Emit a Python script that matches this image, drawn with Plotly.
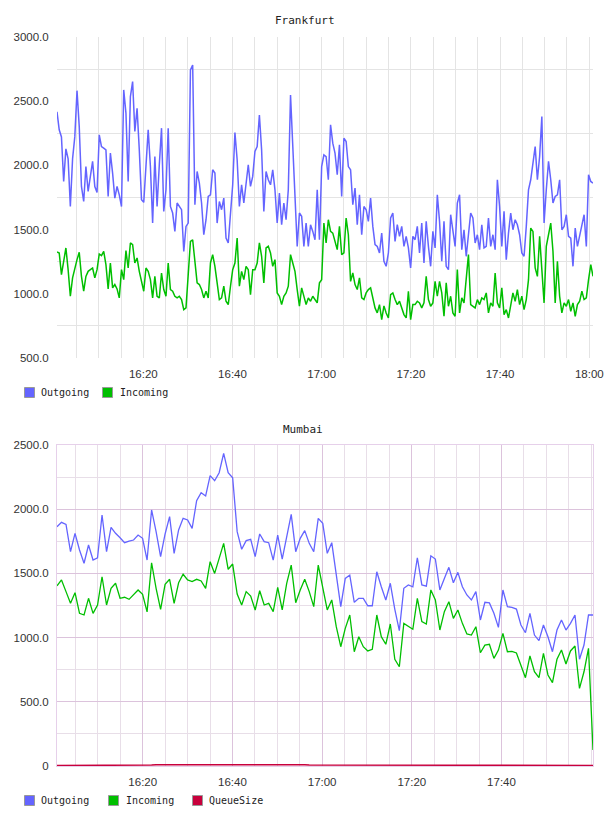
import pandas as pd
import plotly.graph_objects as go

# ---------------- data ----------------
fra_start = "2024-01-01 16:00:39"
fra_end = "2024-01-01 18:00:50"
fra_outgoing = [
    2417, 2277, 2222, 1875, 2129, 2051, 1680, 2051, 2222, 2582,
    2302, 1836, 1719, 1991, 1797, 1927, 2031, 1836, 1789, 2238,
    2147, 2134, 2121, 1758, 2096, 1940, 1745, 1836, 1771, 1680,
    2588, 2407, 1875, 2536, 2653, 2264, 2445, 2121, 1733, 1712,
    1991, 2277, 1991, 1551, 2069, 1680, 2005, 2290, 1642, 1810,
    2290, 1680, 1629, 1486, 1707, 1680, 1655, 1330, 1525, 1551,
    2743, 2782, 1694, 1953, 1862, 1707, 1460, 1577, 1758, 1771,
    1966, 1940, 1551, 1719, 1655, 1745, 1434, 1396, 1603, 1849,
    2256, 2044, 1680, 1849, 1707, 1862, 2005, 1836, 1914, 2108,
    2147, 2393, 2121, 1642, 1953, 1888, 1849, 1966, 1810, 1551,
    1784, 1538, 1707, 1577, 1810, 2549, 2134, 1680, 1369, 1629,
    1603, 1369, 1551, 1369, 1538, 1486, 1421, 1810, 1421, 1991,
    2082, 2069, 1888, 2316, 2173, 2096, 1927, 2160, 1758, 2212,
    2186, 1991, 1966, 1694, 1823, 1538, 1771, 1460, 1680, 1655,
    1564, 1745, 1525, 1383, 1369, 1318, 1473, 1253, 1214, 1318,
    1590, 1629, 1408, 1538, 1447, 1525, 1369, 1447, 1357, 1201,
    1447, 1421, 1525, 1318, 1551, 1240, 1564, 1369, 1214, 1486,
    1357, 1771, 1564, 1253, 1564, 1214, 1188, 1616, 1473, 1369,
    1707, 1771, 1344, 1499, 1292, 1447, 1629, 1590, 1396, 1460,
    1344, 1538, 1357, 1369, 1590, 1369, 1460, 1344, 1888, 1680,
    1369, 1642, 1266, 1473, 1629, 1499, 1577, 1538, 1460, 1318,
    1292, 1525, 1810, 1888, 2005, 2147, 1888, 2069, 2380, 1551,
    1810, 2031, 1888, 1707, 1758, 1771, 1888, 1499, 1525, 1616,
    1447, 1434, 1214, 1512, 1369, 1447, 1525, 1616, 1369, 1927,
    1875, 1862,
]
fra_incoming = [
    1326, 1318, 1149, 1240, 1357, 1188, 981, 1124, 1201, 1266,
    1323, 1136, 1020, 1136, 1175, 1188, 1201, 1124, 1188, 1310,
    1297, 1331, 1227, 1038, 1240, 1046, 1072, 1038, 968, 1188,
    1110, 1336, 1201, 1396, 1383, 1240, 1279, 1175, 1085, 1020,
    1201, 1175, 1110, 968, 1136, 981, 968, 1162, 1033, 981,
    1240, 1033, 1020, 981, 968, 981, 955, 877, 890, 1188,
    1408, 1421, 1240, 1085, 1072, 1033, 968, 1020, 968, 1240,
    1305, 1214, 1085, 955, 968, 1059, 942, 916, 1059, 1188,
    1240, 1434, 1059, 1175, 1110, 1214, 1188, 994, 1188, 1188,
    1240, 1396, 1292, 1085, 1357, 1370, 1318, 1214, 1266, 1007,
    981, 916, 981, 1007, 1059, 1305, 1240, 1175, 1033, 903,
    1046, 981, 916, 968, 942, 981, 955, 929, 1085, 1110,
    1551, 1396, 1577, 1486, 1473, 1408, 1344, 1525, 1305, 1318,
    1590, 1460, 1097, 1162, 1072, 1033, 1124, 968, 955, 1007,
    1033, 1046, 955, 890, 851, 916, 799, 906, 851, 812,
    994, 1007, 955, 916, 942, 890, 838, 812, 1020, 799,
    916, 916, 942, 929, 890, 929, 1136, 955, 903, 929,
    1097, 981, 1097, 1007, 825, 1085, 903, 981, 851, 825,
    1188, 851, 968, 929, 1149, 1305, 916, 903, 890, 955,
    916, 968, 955, 1007, 851, 929, 903, 1162, 929, 890,
    1046, 838, 877, 812, 903, 1007, 942, 1033, 916, 981,
    877, 955, 1110, 1512, 1486, 1201, 1136, 1447, 1188, 929,
    1369, 1473, 1551, 1331, 929, 1253, 981, 851, 929, 903,
    955, 864, 929, 825, 916, 942, 1020, 955, 968, 1110,
    1227, 1136,
]

mum_start = "2024-01-01 16:00:53"
mum_end = "2024-01-01 18:00:24"
mum_outgoing = [
    1864, 1898, 1882, 1669, 1812, 1682, 1579, 1721, 1604, 1622,
    1955, 1669, 1859, 1812, 1778, 1739, 1752, 1760, 1799, 1773,
    1604, 1994, 1825, 1630, 1807, 1942, 1656, 1838, 1929, 1916,
    1851, 2066, 2128, 2103, 2261, 2222, 2284, 2435, 2284, 2245,
    1825, 1688, 1755, 1765, 1630, 1807, 1747, 1739, 1604, 1799,
    1612, 1786, 1960, 1669, 1773, 1833, 1734, 1669, 1929, 1890,
    1656, 1739, 1474, 1241, 1461, 1487, 1275, 1306, 1306, 1248,
    1248, 1513, 1396, 1293, 1423, 1220, 1054, 1384, 1410, 1395,
    1622, 1410, 1401, 1637, 1612, 1371, 1461, 1547, 1427, 1508,
    1396, 1332, 1293, 1358, 1137, 1275, 1270, 1190, 1080, 1371,
    1241, 1235, 1222, 1098, 1038, 1189, 1020, 976, 1098, 1007,
    890, 1059, 1137, 1059, 1111, 1176, 831, 942, 1176, 1176,
]
mum_incoming = [
    1404, 1449, 1358, 1267, 1350, 1189, 1176, 1306, 1189, 1254,
    1474, 1254, 1384, 1423, 1306, 1314, 1298, 1332, 1371, 1337,
    1200, 1583, 1384, 1220, 1415, 1454, 1267, 1427, 1493, 1449,
    1436, 1454, 1441, 1384, 1591, 1500, 1617, 1734, 1532, 1573,
    1339, 1254, 1358, 1324, 1215, 1365, 1254, 1267, 1202, 1392,
    1215, 1423, 1565, 1272, 1371, 1454, 1358, 1241, 1565, 1396,
    1215, 1293, 1085, 929, 1072, 1176, 890, 1007, 929, 896,
    909, 1176, 1007, 948, 1106, 831, 773, 1111, 1085, 1065,
    1306, 1124, 1106, 1371, 1293, 1059, 1202, 1280, 1150, 1215,
    1111, 1028, 1020, 1085, 882, 942, 948, 838, 903, 1033,
    890, 893, 880, 786, 688, 857, 734, 688, 877, 709,
    649, 831, 903, 794, 896, 935, 605, 734, 916, 125,
]
mum_queue = [
    3, 3, 3, 3, 4, 4, 4, 3, 3, 3,
    4, 4, 5, 5, 6, 6, 7, 7, 8, 8,
    8, 8, 9, 9, 10, 10, 11, 12, 12, 13,
    13, 13, 12, 12, 12, 13, 13, 14, 14, 13,
    13, 12, 12, 13, 13, 12, 12, 12, 11, 11,
    10, 10, 10, 9, 9, 9, 8, 8, 8, 7,
    7, 7, 6, 6, 6, 6, 5, 5, 5, 5,
    5, 5, 5, 4, 4, 4, 4, 4, 4, 4,
    4, 4, 4, 4, 4, 4, 4, 4, 4, 4,
    4, 4, 4, 4, 4, 4, 4, 4, 4, 4,
    4, 4, 4, 4, 4, 4, 4, 4, 4, 4,
    4, 4, 4, 4, 4, 4, 4, 4, 4, 4,
]

fra_x_tickvals = ["2024-01-01 16:20", "2024-01-01 16:40", "2024-01-01 17:00",
                  "2024-01-01 17:20", "2024-01-01 17:40", "2024-01-01 18:00"]
fra_x_ticktext = ["16:20", "16:40", "17:00", "17:20", "17:40", "18:00"]
mum_x_tickvals = fra_x_tickvals[:5]
mum_x_ticktext = fra_x_ticktext[:5]
fra_y_tickvals = [500, 1000, 1500, 2000, 2500, 3000]
fra_y_ticktext = ["500.0", "1000.0", "1500.0", "2000.0", "2500.0", "3000.0"]
fra_y_grid = [750, 1250, 1750, 2250, 2750]
mum_y_tickvals = [0, 500, 1000, 1500, 2000, 2500]
mum_y_ticktext = ["0", "500.0", "1000.0", "1500.0", "2000.0", "2500.0"]
mum_y_minor = [250, 750, 1250, 1750, 2250]

series_names = ["Outgoing", "Incoming", "QueueSize"]
series_colors = ["#6464ff", "#00bf00", "#c8003c"]

# ---------------- figure ----------------
W, H = 608, 816
fra_t = pd.date_range(fra_start, fra_end, periods=len(fra_outgoing))
mum_t = pd.date_range(mum_start, mum_end, periods=len(mum_outgoing))

fig = go.Figure()
fig.add_trace(go.Scatter(x=fra_t, y=fra_outgoing, mode="lines", name=series_names[0],
                         line=dict(color=series_colors[0], width=1.5), xaxis="x", yaxis="y"))
fig.add_trace(go.Scatter(x=fra_t, y=fra_incoming, mode="lines", name=series_names[1],
                         line=dict(color=series_colors[1], width=1.5), xaxis="x", yaxis="y"))
fig.add_trace(go.Scatter(x=mum_t, y=mum_outgoing, mode="lines", name=series_names[0],
                         line=dict(color=series_colors[0], width=1.3), xaxis="x2", yaxis="y2"))
fig.add_trace(go.Scatter(x=mum_t, y=mum_incoming, mode="lines", name=series_names[1],
                         line=dict(color=series_colors[1], width=1.3), xaxis="x2", yaxis="y2"))
fig.add_trace(go.Scatter(x=mum_t, y=mum_queue, mode="lines", name=series_names[2],
                         line=dict(color=series_colors[2], width=1.5), xaxis="x2", yaxis="y2"))

tickfont = dict(family="Liberation Sans, Arial, sans-serif", size=11.5, color="#333333")
GRID = "#e4e4e4"
M_MAJOR = "#dcc3dc"
M_MINOR = "#e8dee8"
M_FRAME = "#e6d0ea"

xd = [57 / W, 593 / W]
common = dict(automargin=False, zeroline=False, ticks="outside", ticklen=5,
              tickcolor="rgba(0,0,0,0)", tickfont=tickfont)
fig.update_layout(
    width=W, height=H, autosize=False,
    margin=dict(l=0, r=0, t=0, b=0, autoexpand=False),
    paper_bgcolor="white", plot_bgcolor="white",
    showlegend=False,
    xaxis=dict(domain=xd, anchor="y", type="date", range=[fra_t[0], fra_t[-1]],
               tickvals=fra_x_tickvals, ticktext=fra_x_ticktext,
               showgrid=True, gridcolor=GRID, gridwidth=1,
               minor=dict(dtick=300000, tick0="2024-01-01 16:00", showgrid=True,
                          gridcolor=GRID, gridwidth=1),
               showline=False, **common),
    yaxis=dict(domain=[1 - 358 / H, 1 - 37 / H], anchor="x", range=[500, 3000],
               tickvals=fra_y_tickvals, ticktext=fra_y_ticktext,
               showgrid=False,
               minor=dict(tickvals=fra_y_grid, showgrid=True, gridcolor=GRID, gridwidth=1),
               showline=False, **common),
    xaxis2=dict(domain=xd, anchor="y2", type="date", range=[mum_t[0], mum_t[-1]],
                tickvals=mum_x_tickvals, ticktext=mum_x_ticktext,
                showgrid=True, gridcolor=M_MAJOR, gridwidth=1,
                minor=dict(dtick=300000, tick0="2024-01-01 16:00", showgrid=True,
                           gridcolor=M_MINOR, gridwidth=1),
                showline=True, mirror=True, linecolor=M_FRAME, linewidth=1, **common),
    yaxis2=dict(domain=[1 - 766 / H, 1 - 445 / H], anchor="x2", range=[0, 2500],
                tickvals=mum_y_tickvals, ticktext=mum_y_ticktext,
                showgrid=True, gridcolor=M_MAJOR, gridwidth=1,
                minor=dict(tickvals=mum_y_minor, showgrid=True, gridcolor=M_MINOR, gridwidth=1),
                showline=True, mirror=True, linecolor=M_FRAME, linewidth=1, **common),
)

title_font = dict(family="DejaVu Sans Mono, monospace", size=11, color="#222222")
legend_font = dict(family="DejaVu Sans Mono, monospace", size=10, color="#222222")

annotations = [
    dict(text="Frankfurt", x=304.5 / W, y=1 - 20.5 / H, xref="paper", yref="paper",
         xanchor="center", yanchor="middle", showarrow=False, font=title_font),
    dict(text="Mumbai", x=303 / W, y=1 - 429 / H, xref="paper", yref="paper",
         xanchor="center", yanchor="middle", showarrow=False, font=title_font),
]
shapes = []


def legend_item(x_box, x_text, y_mid, idx):
    shapes.append(dict(type="rect", xref="paper", yref="paper",
                       x0=x_box / W, x1=(x_box + 10) / W,
                       y0=1 - (y_mid + 5) / H, y1=1 - (y_mid - 5) / H,
                       fillcolor=series_colors[idx], line=dict(color="#999999", width=1)))
    annotations.append(dict(text=series_names[idx], x=x_text / W, y=1 - y_mid / H,
                            xref="paper", yref="paper", xanchor="left", yanchor="middle",
                            showarrow=False, font=legend_font))


legend_item(24.5, 38.5, 392.5, 0)
legend_item(102.5, 117.5, 392.5, 1)
legend_item(24.5, 38.5, 800.5, 0)
legend_item(108.5, 123.5, 800.5, 1)
legend_item(192.5, 206.5, 800.5, 2)

fig.update_layout(annotations=annotations, shapes=shapes)
fig.write_html("out.html")
